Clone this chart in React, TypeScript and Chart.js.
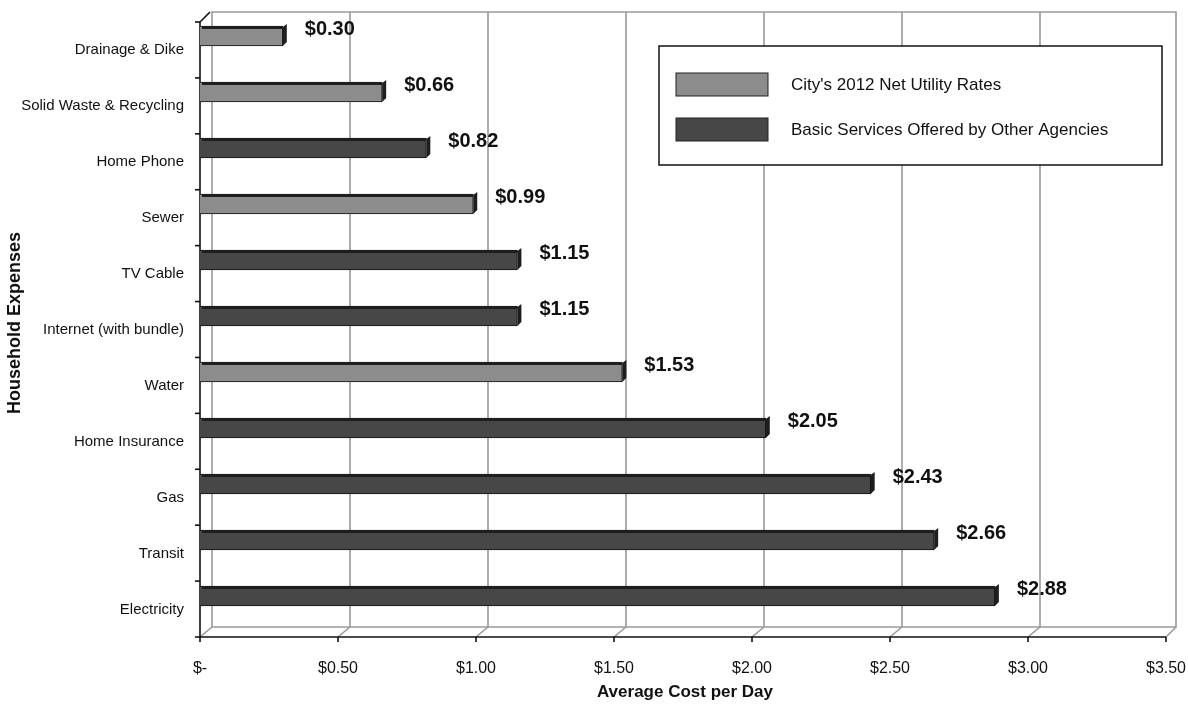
import React, { useEffect, useRef } from "react";
import { Chart, registerables } from "chart.js";

Chart.register(...registerables);

const categories = [
  "Drainage & Dike",
  "Solid Waste & Recycling",
  "Home Phone",
  "Sewer",
  "TV Cable",
  "Internet (with bundle)",
  "Water",
  "Home Insurance",
  "Gas",
  "Transit",
  "Electricity",
];
const cityRates: (number | null)[] = [0.3, 0.66, null, 0.99, null, null, 1.53, null, null, null, null];
const otherAgencies: (number | null)[] = [null, null, 0.82, null, 1.15, 1.15, null, 2.05, 2.43, 2.66, 2.88];
const seriesNames = ["City's 2012 Net Utility Rates", "Basic Services Offered by Other Agencies"];
const xTicks = [0, 0.5, 1, 1.5, 2, 2.5, 3, 3.5];
const xTitle = "Average Cost per Day";
const yTitle = "Household Expenses";

const FONT = "'Liberation Sans', Arial, sans-serif";
const LIGHT = "#8c8c8c";
const DARK = "#474747";
const DEPTH_X = 12;
const DEPTH_Y = 10;

const fmt = (v: number) => (v === 0 ? "$-" : "$" + v.toFixed(2));

const zeroPad = (s: any) => {
  s.paddingTop = 0;
  s.paddingBottom = 0;
  s.paddingLeft = 0;
  s.paddingRight = 0;
};

const threeD = {
  id: "threeD",
  beforeDatasetsDraw(chart: any) {
    const { ctx, chartArea, scales } = chart;
    const x = scales.x;
    const front = chartArea.bottom + 13;
    const backBottom = front - DEPTH_Y;
    const top = chartArea.top + 4;
    const left = chartArea.left;
    const right = x.getPixelForValue(3.5);
    ctx.save();
    ctx.strokeStyle = "#9a9a9a";
    ctx.lineWidth = 1.6;
    ctx.beginPath();
    ctx.moveTo(left + DEPTH_X, top);
    ctx.lineTo(right + DEPTH_X - 2, top);
    ctx.lineTo(right + DEPTH_X - 2, backBottom);
    ctx.lineTo(left + DEPTH_X, backBottom);
    ctx.closePath();
    ctx.stroke();
    xTicks.forEach((t) => {
      const px = x.getPixelForValue(t);
      ctx.beginPath();
      if (t !== 0 && t !== 3.5) {
        ctx.moveTo(px + DEPTH_X, top);
        ctx.lineTo(px + DEPTH_X, backBottom);
      }
      ctx.moveTo(px + DEPTH_X - (t === 3.5 ? 2 : 0), backBottom);
      ctx.lineTo(px, front);
      ctx.stroke();
    });
    ctx.strokeStyle = "#111";
    ctx.lineWidth = 1.6;
    ctx.beginPath();
    ctx.moveTo(left + DEPTH_X - 2, top);
    ctx.lineTo(left, top + DEPTH_Y);
    ctx.lineTo(left, front);
    ctx.lineTo(right, front);
    ctx.stroke();
    xTicks.forEach((t) => {
      const px = x.getPixelForValue(t);
      ctx.beginPath();
      ctx.moveTo(px, front);
      ctx.lineTo(px, front + 5);
      ctx.stroke();
    });
    const n = categories.length;
    const step = (front - (top + DEPTH_Y)) / n;
    for (let i = 0; i <= n; i++) {
      const py = top + DEPTH_Y + i * step;
      ctx.beginPath();
      ctx.moveTo(left - 5, py);
      ctx.lineTo(left, py);
      ctx.stroke();
    }
    ctx.restore();
  },
  afterDatasetsDraw(chart: any) {
    const { ctx } = chart;
    ctx.save();
    chart.data.datasets.forEach((ds: any, di: number) => {
      const meta = chart.getDatasetMeta(di);
      meta.data.forEach((bar: any, i: number) => {
        const v = ds.data[i];
        if (v == null) return;
        const h = bar.height;
        const y0 = bar.y - h / 2;
        const x0 = bar.base;
        const x1 = bar.x;
        ctx.fillStyle = "#1e1e1e";
        ctx.fillRect(x0 + 2, y0, x1 - x0 - 2, 3);
        ctx.beginPath();
        ctx.moveTo(x1, y0 + 1);
        ctx.lineTo(x1 + 4, y0 - 2);
        ctx.lineTo(x1 + 4, y0 + h - 4);
        ctx.lineTo(x1, y0 + h);
        ctx.closePath();
        ctx.fill();
        ctx.fillStyle = "#111";
        ctx.font = "bold 20px " + FONT;
        ctx.textAlign = "left";
        ctx.textBaseline = "middle";
        ctx.fillText(fmt(v), x1 + 22, bar.y - 7);
      });
    });
    ctx.restore();
  },
  afterDraw(chart: any) {
    const { ctx } = chart;
    ctx.save();
    ctx.fillStyle = "#fff";
    ctx.fillRect(659, 46, 503, 119);
    ctx.strokeStyle = "#111";
    ctx.lineWidth = 1.5;
    ctx.strokeRect(659, 46, 503, 119);
    const colors = [LIGHT, DARK];
    seriesNames.forEach((name, i) => {
      const y = 73 + i * 45;
      ctx.fillStyle = colors[i];
      ctx.fillRect(676, y, 92, 23);
      ctx.strokeStyle = "#222";
      ctx.lineWidth = 1;
      ctx.strokeRect(676, y, 92, 23);
      ctx.fillStyle = "#111";
      ctx.font = "17px " + FONT;
      ctx.textAlign = "left";
      ctx.textBaseline = "middle";
      ctx.fillText(name, 791, y + 12);
    });
    ctx.fillStyle = "#111";
    ctx.font = "bold 17px " + FONT;
    ctx.textAlign = "center";
    ctx.textBaseline = "middle";
    ctx.fillText(xTitle, 685, 692);
    ctx.translate(15, 323);
    ctx.rotate(-Math.PI / 2);
    ctx.font = "bold 18px " + FONT;
    ctx.fillText(yTitle, 0, 0);
    ctx.restore();
  },
};

export default function App() {
  const ref = useRef<HTMLCanvasElement>(null);
  useEffect(() => {
    if (!ref.current) return;
    const chart = new Chart(ref.current, {
      type: "bar",
      data: {
        labels: categories,
        datasets: [
          {
            label: seriesNames[0],
            data: cityRates,
            backgroundColor: LIGHT,
            borderColor: "#111",
            borderWidth: 1,
            barThickness: 20,
            grouped: false,
          } as any,
          {
            label: seriesNames[1],
            data: otherAgencies,
            backgroundColor: DARK,
            borderColor: "#111",
            borderWidth: 1,
            barThickness: 20,
            grouped: false,
          } as any,
        ],
      },
      options: {
        indexAxis: "y",
        animation: false,
        responsive: false,
        maintainAspectRatio: false,
        layout: { padding: { top: 8, right: 22, left: 0, bottom: 0 } },
        plugins: {
          legend: { display: false },
          tooltip: { enabled: false },
        },
        scales: {
          x: {
            type: "linear",
            min: 0,
            max: 3.5,
            afterFit: (s: any) => {
              s.height = 84;
              zeroPad(s);
            },
            afterBuildTicks: (s: any) => {
              s.ticks = xTicks.map((v) => ({ value: v }));
            },
            grid: { display: false },
            border: { display: false },
            ticks: {
              padding: 27,
              color: "#111",
              font: { family: FONT, size: 16 },
              callback: (v: any) => fmt(Number(v)),
            },
          },
          y: {
            afterFit: (s: any) => {
              s.width = 200;
              zeroPad(s);
            },
            grid: { display: false },
            border: { display: false },
            ticks: {
              padding: 8,
              labelOffset: 14,
              color: "#111",
              font: { family: FONT, size: 15 },
            },
          },
        },
      },
      plugins: [threeD],
    });
    return () => chart.destroy();
  }, []);
  return (
    <div style={{ position: "fixed", left: 0, top: 0, width: 1188, height: 708, background: "#fff" }}>
      <canvas ref={ref} width={1188} height={708} style={{ width: 1188, height: 708 }} />
    </div>
  );
}
